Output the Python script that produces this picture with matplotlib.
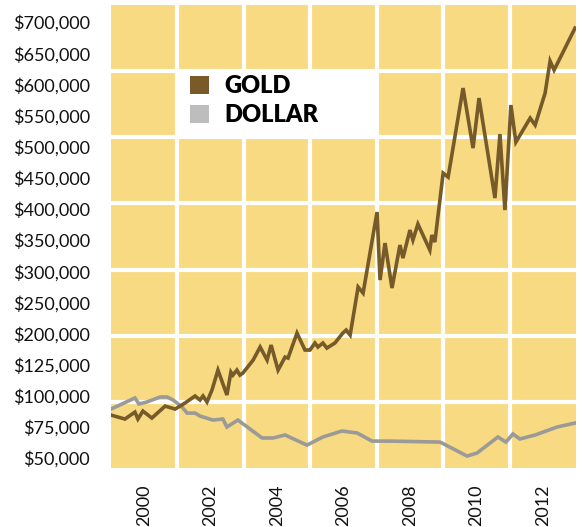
import numpy as np
import matplotlib
matplotlib.use("Agg")
import matplotlib.pyplot as plt
from matplotlib.patches import Rectangle, Patch

# ---- data ----
gold_years = [1999.00, 1999.42, 1999.72, 1999.81, 1999.96, 2000.23, 2000.63, 2000.93, 2001.23, 2001.53,
              2001.68, 2001.77, 2001.89, 2002.04, 2002.22, 2002.49, 2002.61, 2002.67, 2002.79, 2002.88,
              2002.97, 2003.28, 2003.49, 2003.70, 2003.82, 2004.03, 2004.24, 2004.33, 2004.60, 2004.84,
              2004.99, 2005.14, 2005.23, 2005.38, 2005.50, 2005.74, 2005.98, 2006.08, 2006.20, 2006.44,
              2006.59, 2007.01, 2007.10, 2007.25, 2007.46, 2007.70, 2007.79, 2008.00, 2008.09, 2008.24,
              2008.60, 2008.66, 2008.75, 2009.00, 2009.15, 2009.60, 2009.90, 2010.08, 2010.56, 2010.71,
              2010.86, 2011.04, 2011.19, 2011.62, 2011.77, 2012.07, 2012.22, 2012.34, 2012.97]
gold_values = [84500, 81300, 86900, 81300, 87700, 82100, 91700, 89300, 94200, 99800,
               96600, 99800, 95000, 104600, 120600, 100600, 119000, 116600, 120600, 116600,
               118200, 136000, 167400, 136000, 172200, 120600, 143200, 140800, 200700, 160100,
               160100, 177000, 167400, 177000, 164900, 177000, 200700, 205500, 196200, 274600,
               264900, 395000, 285800, 345200, 273000, 342000, 321100, 366100, 350000, 375700,
               334000, 358100, 346800, 457600, 451200, 594100, 497700, 578000, 417500, 520200,
               398200, 566800, 507400, 545900, 534700, 586100, 637400, 623000, 690400]

dollar_years = [1999.00, 1999.72, 1999.84, 2000.08, 2000.48, 2000.69, 2000.87, 2001.14, 2001.29, 2001.53,
                2001.68, 2002.07, 2002.37, 2002.49, 2002.82, 2003.55, 2003.88, 2004.24, 2004.90, 2005.38,
                2005.95, 2006.41, 2006.86, 2007.40, 2008.91, 2009.72, 2010.02, 2010.65, 2010.89, 2011.10,
                2011.31, 2011.77, 2012.43, 2012.97]
dollar_values = [89300, 98200, 93400, 95000, 99000, 99000, 96600, 90900, 86100, 86100,
                 83700, 80500, 81300, 74900, 80500, 66100, 66100, 68500, 60400, 66900,
                 71700, 70100, 63600, 63600, 62800, 51600, 54000, 66900, 62800, 69300,
                 65300, 68500, 74900, 78100]

y_ticks = [50000, 75000, 100000, 125000, 200000, 250000, 300000, 350000, 400000,
           450000, 500000, 550000, 600000, 650000, 700000]
x_ticks = [2000, 2002, 2004, 2006, 2008, 2010, 2012]
series_labels = ["GOLD", "DOLLAR"]

# ---- piecewise axis scale: tick values are evenly spaced ----
kv = np.array(y_ticks, dtype=float)
ki = np.arange(len(kv), dtype=float)

def fwd(v):
    v = np.asarray(v, dtype=float)
    out = np.interp(v, kv, ki)
    out = np.where(v < kv[0], (v - kv[0]) / 25000.0, out)
    out = np.where(v > kv[-1], ki[-1] + (v - kv[-1]) / 50000.0, out)
    return out

def inv(i):
    i = np.asarray(i, dtype=float)
    out = np.interp(i, ki, kv)
    out = np.where(i < ki[0], kv[0] + (i - ki[0]) * 25000.0, out)
    out = np.where(i > ki[-1], kv[-1] + (i - ki[-1]) * 50000.0, out)
    return out

plt.rcParams['font.family'] = ['Lato', 'DejaVu Sans']

fig = plt.figure(figsize=(5.82, 5.27), dpi=100)
ax = fig.add_axes([111/582, 1 - 468/527, 465/582, 463/527])

bg = '#F8DA82'
gold_c = '#765A29'
dollar_c = '#9A9A98'
ax.set_facecolor(bg)

ax.set_yscale('function', functions=(fwd, inv))
ax.set_ylim(inv(-0.32), inv(14.55))
ax.set_xlim(1999, 2013)

# white square grid (7 x 7 cells)
for k in range(1, 7):
    ax.plot([k/7, k/7], [0, 1], transform=ax.transAxes, color='white', lw=3.0, zorder=1,
            solid_capstyle='butt')
    ax.plot([0, 1], [k/7, k/7], transform=ax.transAxes, color='white', lw=3.0, zorder=1,
            solid_capstyle='butt')

ax.plot(dollar_years, dollar_values, color=dollar_c, lw=2.6, zorder=3, solid_joinstyle='miter')
ax.plot(gold_years, gold_values, color=gold_c, lw=2.6, zorder=4, solid_joinstyle='miter')

# legend box occupying cells
ax.add_patch(Rectangle((1/7, 5/7), 3/7, 1/7, transform=ax.transAxes, facecolor='white',
                       edgecolor='none', zorder=2))
handles = [Patch(facecolor='#7A5A28', edgecolor='none'), Patch(facecolor='#BDBDBD', edgecolor='none')]
leg = ax.legend(handles, series_labels, loc='upper left', bbox_to_anchor=(0.170, 0.848),
                frameon=False, borderpad=0, borderaxespad=0, handlelength=0.82, handleheight=0.82,
                handletextpad=0.65, labelspacing=0.28,
                prop={'family': 'Lato', 'weight': 'heavy', 'size': 17})
leg.set_zorder(5)

ax.set_yticks(y_ticks)
ax.set_yticklabels(['${:,.0f}'.format(v) for v in y_ticks])
ax.set_xticks(x_ticks)
ax.set_xticklabels([str(y) for y in x_ticks], rotation=90)
ax.yaxis.set_minor_locator(matplotlib.ticker.NullLocator())
ax.tick_params(axis='both', length=0, labelsize=13, colors='#111111')
ax.tick_params(axis='y', pad=15)
ax.tick_params(axis='x', pad=12)
for s in ax.spines.values():
    s.set_visible(False)

fig.savefig('out.png', dpi=100, facecolor='white')
